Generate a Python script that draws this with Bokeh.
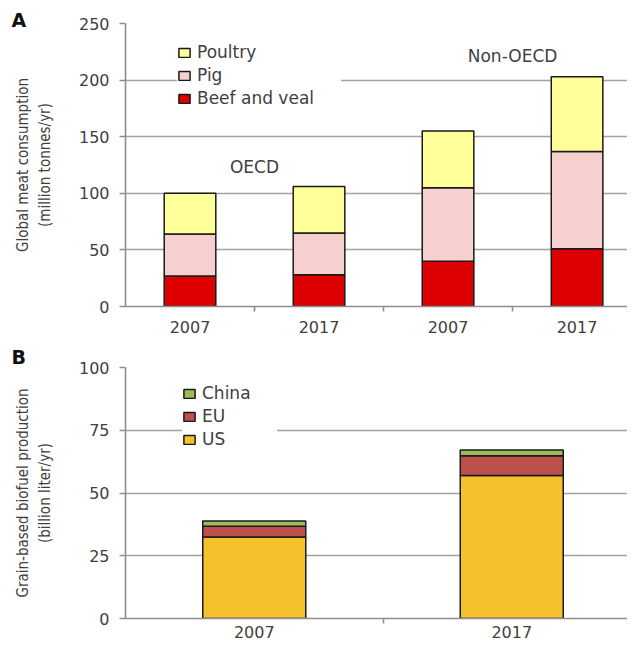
from bokeh.plotting import figure
from bokeh.models import (ColumnDataSource, Range1d, FixedTicker, Legend, LegendItem, Label)
from bokeh.layouts import column
from bokeh.embed import file_html
from bokeh.resources import INLINE

# ---------------- data ----------------
meat_groups = ["OECD", "OECD", "Non-OECD", "Non-OECD"]
meat_years = ["2007", "2017", "2007", "2017"]
beef_veal = [27, 28, 40, 51]
pig = [37, 37, 65, 86]
poultry = [36, 41, 50, 66]

fuel_years = ["2007", "2017"]
us = [32.5, 57.0]
eu = [4.3, 7.8]
china = [2.0, 2.3]

meat_ticks = [0, 50, 100, 150, 200, 250]
fuel_ticks = [0, 25, 50, 75, 100]

# ---------------- styles ----------------
TXT = "#404040"
GRID = "#a3a3a3"
AXIS = "#8e8e8e"
FONT = "DejaVu Sans"
LABEL_FONT = "Liberation Sans Narrow, DejaVu Sans Condensed, sans-serif"
EDGE = "#1a1a1a"


def style(p, ticks, n):
    p.outline_line_color = None
    p.xgrid.grid_line_color = None
    p.ygrid.grid_line_color = GRID
    p.ygrid.grid_line_width = 1.6
    p.yaxis.ticker = FixedTicker(ticks=ticks)
    p.yaxis.axis_line_color = AXIS
    p.yaxis.axis_line_width = 1.6
    p.yaxis.major_tick_line_color = AXIS
    p.yaxis.major_tick_line_width = 1.6
    p.yaxis.major_tick_in = 0
    p.yaxis.major_tick_out = 6
    p.yaxis.minor_tick_line_color = None
    p.yaxis.major_label_standoff = 10
    p.yaxis.major_label_text_font = FONT
    p.yaxis.major_label_text_font_size = "16px"
    p.yaxis.major_label_text_color = TXT
    p.yaxis.axis_label_text_font = LABEL_FONT
    p.yaxis.axis_label_text_font_size = "15px"
    p.yaxis.axis_label_text_font_style = "normal"
    p.yaxis.axis_label_text_color = TXT
    p.yaxis.axis_label_standoff = 22
    p.xaxis.ticker = FixedTicker(ticks=list(range(n)),
                                 minor_ticks=[i + 0.5 for i in range(n - 1)])
    p.xaxis.axis_line_color = AXIS
    p.xaxis.axis_line_width = 1.6
    p.xaxis.major_tick_line_color = None
    p.xaxis.major_tick_in = 0
    p.xaxis.major_tick_out = 0
    p.xaxis.minor_tick_line_color = AXIS
    p.xaxis.minor_tick_line_width = 1.6
    p.xaxis.minor_tick_in = 0
    p.xaxis.minor_tick_out = 5
    p.xaxis.major_label_standoff = 9
    p.xaxis.major_label_text_font = FONT
    p.xaxis.major_label_text_font_size = "16px"
    p.xaxis.major_label_text_color = TXT
    p.min_border_left = 125
    p.min_border_right = 0


def letter(p, txt, standoff):
    p.title.text = txt
    p.title.align = "left"
    p.title.offset = -114
    p.title.standoff = standoff
    p.title.text_font = FONT
    p.title.text_font_style = "bold"
    p.title.text_font_size = "19px"
    p.title.text_color = "#111111"


# ---------------- panel A ----------------
xa = list(range(len(meat_years)))
src_a = ColumnDataSource(dict(x=xa, beef=beef_veal, pig=pig, poultry=poultry))
pA = figure(width=627, height=343, output_backend="svg", toolbar_location=None,
            x_range=Range1d(-0.5, 3.391), y_range=Range1d(0, 250))
style(pA, meat_ticks, len(meat_years))
pA.min_border_top = 23
pA.min_border_bottom = 37
pA.yaxis.axis_label = "Global meat consumption\n(million tonnes/yr)"
pA.xaxis.major_label_overrides = {i: y for i, y in enumerate(meat_years)}

rA = pA.vbar_stack(["beef", "pig", "poultry"], x="x", width=0.4, source=src_a,
                   fill_color=["#dd0000", "#f6cfcf", "#ffff99"],
                   line_color=EDGE, line_width=1.5)
legA = Legend(items=[LegendItem(label="Poultry", renderers=[rA[2]]),
                     LegendItem(label="Pig", renderers=[rA[1]]),
                     LegendItem(label="Beef and veal", renderers=[rA[0]])],
              location=(52, 198), glyph_width=14, glyph_height=11,
              label_height=20, spacing=3, padding=17, label_standoff=6,
              label_width=144, margin=0,
              label_text_font=FONT, label_text_font_size="17px",
              label_text_color=TXT, border_line_color=None,
              background_fill_color="white", background_fill_alpha=1.0)
pA.add_layout(legA, "center")

for gx, gy, t in [(0.5, 123, "OECD"), (2.5, 221.5, "Non-OECD")]:
    pA.add_layout(Label(x=gx, y=gy, text=t, text_align="center",
                        text_baseline="middle", text_font=FONT,
                        text_font_size="17px", text_color=TXT))
letter(pA, "A", -15)

# ---------------- panel B ----------------
xb = list(range(len(fuel_years)))
src_b = ColumnDataSource(dict(x=xb, us=us, eu=eu, china=china))
pB = figure(width=627, height=297, output_backend="svg", toolbar_location=None,
            x_range=Range1d(-0.5, 1.4495), y_range=Range1d(0, 100))
style(pB, fuel_ticks, len(fuel_years))
pB.min_border_top = 22
pB.min_border_bottom = 21
pB.xaxis.major_label_standoff = 2
pB.yaxis.axis_label = "Grain-based biofuel production\n(billion liter/yr)"
pB.xaxis.major_label_overrides = {i: y for i, y in enumerate(fuel_years)}

rB = pB.vbar_stack(["us", "eu", "china"], x="x", width=0.4, source=src_b,
                   fill_color=["#f5c12c", "#bd504d", "#9bbb59"],
                   line_color=EDGE, line_width=1.5)
legB = Legend(items=[LegendItem(label="China", renderers=[rB[2]]),
                     LegendItem(label="EU", renderers=[rB[1]]),
                     LegendItem(label="US", renderers=[rB[0]])],
              location=(57, 169), glyph_width=14, glyph_height=11,
              label_height=20, spacing=3, padding=12, label_standoff=6,
              label_width=75, margin=0,
              label_text_font=FONT, label_text_font_size="17px",
              label_text_color=TXT, border_line_color=None,
              background_fill_color="white", background_fill_alpha=1.0)
pB.add_layout(legB, "center")
letter(pB, "B", 0)

layout = column(pA, pB, spacing=0)
open("out.html", "w").write(file_html(layout, INLINE))
